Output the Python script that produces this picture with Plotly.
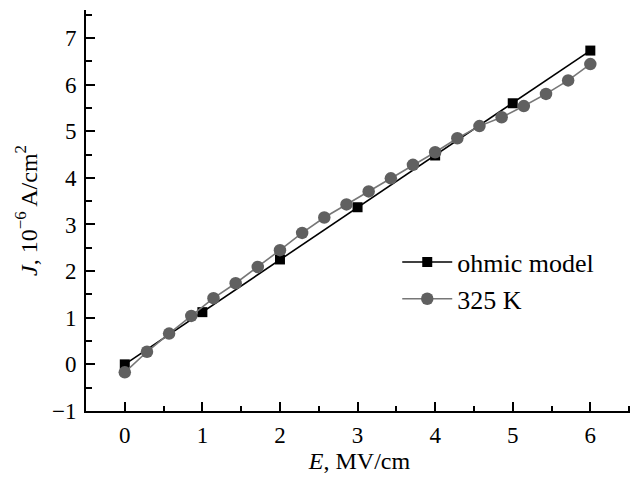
import plotly.graph_objects as go

# Data
ohmic_E = [0, 1, 2, 3, 4, 5, 6]
ohmic_J = [0.0, 1.12, 2.25, 3.37, 4.48, 5.60, 6.73]

k325_E = [0, 0.286, 0.571, 0.857, 1.143, 1.429, 1.714, 2.0, 2.286, 2.571, 2.857,
          3.143, 3.429, 3.714, 4.0, 4.286, 4.571, 4.857, 5.143, 5.429, 5.714, 6.0]
k325_J = [-0.17, 0.27, 0.66, 1.04, 1.42, 1.74, 2.09, 2.45, 2.82, 3.15, 3.43,
          3.71, 3.99, 4.28, 4.55, 4.85, 5.11, 5.30, 5.54, 5.80, 6.09, 6.44]

x_ticks = [0, 1, 2, 3, 4, 5, 6]
y_ticks = [-1, 0, 1, 2, 3, 4, 5, 6, 7]

FONT = "Liberation Serif, Times New Roman, serif"

fig = go.Figure()
fig.add_trace(go.Scatter(
    x=ohmic_E, y=ohmic_J, name="ohmic model", mode="lines+markers",
    line=dict(color="#000000", width=1.6),
    marker=dict(symbol="square", size=10, color="#000000"),
))
fig.add_trace(go.Scatter(
    x=k325_E, y=k325_J, name="325 K", mode="lines+markers",
    line=dict(color="#777777", width=1.6),
    marker=dict(symbol="circle", size=12.5, color="#606060"),
))

axis_common = dict(
    showline=True, linecolor="black", linewidth=2,
    ticks="inside", ticklen=9, tickwidth=1.5, tickcolor="black",
    showgrid=False, zeroline=False, mirror=False, automargin=False,
    tickfont=dict(family=FONT, size=23, color="black"),
)

fig.update_xaxes(
    range=[-0.5, 6.55], tickvals=x_ticks, ticktext=[str(v) for v in x_ticks],
    minor=dict(ticks="inside", dtick=0.5, tick0=0, ticklen=5, tickwidth=1.5, tickcolor="black"),
    title=dict(text="<i>E</i>, MV/cm", font=dict(family=FONT, size=24, color="black"), standoff=2),
    ticklabelstandoff=2,
    **axis_common,
)
fig.update_yaxes(
    range=[-1, 7.6], tickvals=y_ticks, ticktext=["\u22121"] + [str(v) for v in y_ticks[1:]],
    minor=dict(ticks="inside", dtick=0.5, tick0=0, ticklen=6, tickwidth=1.5, tickcolor="black"),
    title=dict(text="<i>J</i>, 10<sup>\u22126</sup> A/cm<sup>2</sup>", font=dict(family=FONT, size=24, color="black"), standoff=8),
    ticklabelstandoff=3,
    **axis_common,
)

# page body has an 8px margin, so the figure is offset by 8px
fig.update_layout(
    width=630, height=469,
    margin=dict(l=78, r=5, t=2, b=66),
    plot_bgcolor="white", paper_bgcolor="white",
    font=dict(family=FONT, size=24, color="black"),
    showlegend=True,
    legend=dict(x=0.569, y=0.43, xanchor="left", yanchor="top",
                bgcolor="rgba(0,0,0,0)", font=dict(family=FONT, size=26, color="black"),
                itemwidth=50, tracegroupgap=0),
)

fig.write_html("out.html")
